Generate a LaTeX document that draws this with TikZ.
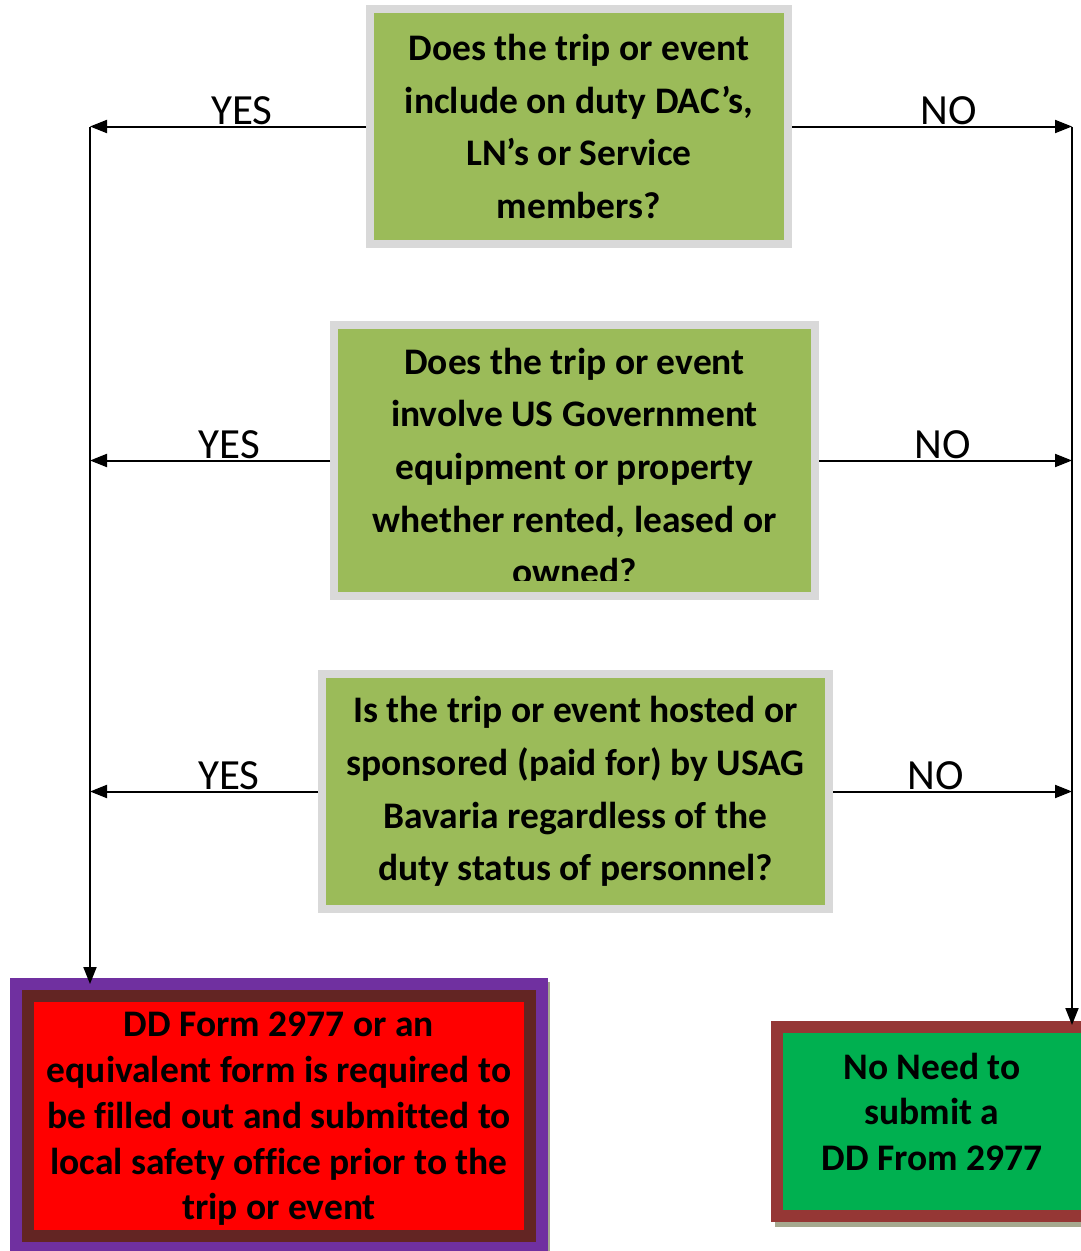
\documentclass[tikz,border=0pt]{standalone}
\usepackage{fontspec}
\setmainfont{Carlito}[Ligatures=NoCommon]
\usepackage{tikz}
\usetikzlibrary{arrows.meta}

\definecolor{qgray}{HTML}{D9D9D9}
\definecolor{qgreen}{HTML}{9BBB59}
\definecolor{reqred}{HTML}{FF0000}
\definecolor{reqbrown}{HTML}{632523}
\definecolor{reqpurple}{HTML}{7030A0}
\definecolor{okgreen}{HTML}{00B050}
\definecolor{okborder}{HTML}{953735}
\definecolor{shadowc}{HTML}{A6A98F}

\tikzset{
	qtext/.style={font=\bfseries\fontsize{37.5}{52.7}\selectfont, align=center, inner sep=0pt},
	qbox/.style={qtext, draw=qgray, line width=8pt, fill=qgreen},
	arr/.style={line width=2pt, -{Triangle[length=17pt,width=13pt]}},
	lbl/.style={font=\fontsize{43}{50}\selectfont, anchor=base, inner sep=0pt, yshift=2pt}
}

\begin{document}
\begin{tikzpicture}[x=1pt,y=-1pt]
	\useasboundingbox (0,0) rectangle (1081,1251);

	% questions
	\node[qbox, minimum width=418pt, minimum height=235pt] (q1) at (579,126.5)
		{Does the trip or event\\include on duty DAC’s,\\LN’s or Service\\members?};
	\node[qbox, minimum width=481pt, minimum height=271pt] (q2) at (574.5,460.5) {};
	\begin{scope}
		\clip (338,329) rectangle (811,580);
		\node[qtext] (q2txt) at ([yshift=-6pt]q2.center)
			{Does the trip or event\\involve US Government\\equipment or property\\whether rented, leased or\\owned?};
	\end{scope}
	\node[qbox, minimum width=507pt, minimum height=235pt] (q3) at (575.5,791.5)
		{Is the trip or event hosted or\\sponsored (paid for) by USAG\\Bavaria regardless of the\\duty status of personnel?};

	% answers
	\fill[shadowc] (14,982) rectangle (550,1255);
	\node[draw=reqbrown, line width=12pt, fill=reqred, minimum width=502pt, minimum height=240pt] (req) at (279,1116) {};
	\draw[reqpurple, line width=12pt] ([shift={(-6pt,6pt)}]req.north west) rectangle ([shift={(6pt,-6pt)}]req.south east);
	\node[qtext, font=\bfseries\fontsize{37.5}{45.7}\selectfont] (reqtxt) at ([yshift=-3pt]req.center)
		{DD Form 2977 or an\\equivalent form is required to\\be filled out and submitted to\\local safety office prior to the\\trip or event};

	\fill[shadowc] (775,1031) rectangle (1090,1227);
	\node[draw=okborder, line width=12pt, fill=okgreen, minimum width=310pt, minimum height=189pt] (noneed) at (932,1121.5) {};
	\node[qtext, font=\bfseries\fontsize{37.5}{45.5}\selectfont] (noneedtxt) at ([yshift=10pt]noneed.center)
		{No Need to\\submit a\\DD From 2977};

	% connectors
	\coordinate (L) at (90,0);
	\coordinate (R) at (1072,0);
	\coordinate (Lend) at (90,984);
	\coordinate (Rend) at (1072,1025);

	\foreach \q/\a/\b in {q1/.45/.56, q2/.42/.49, q3/.39/.43}
	{
		\draw[arr] (\q.west) -- node[lbl, pos=\a] {YES} (\q.west -| L);
		\draw[arr] (\q.east) -- node[lbl, pos=\b] {NO} (\q.east -| R);
	}
	\draw[arr] (q1.west -| L) -- (Lend);
	\draw[arr] (q1.east -| R) -- (Rend);
\end{tikzpicture}
\end{document}
